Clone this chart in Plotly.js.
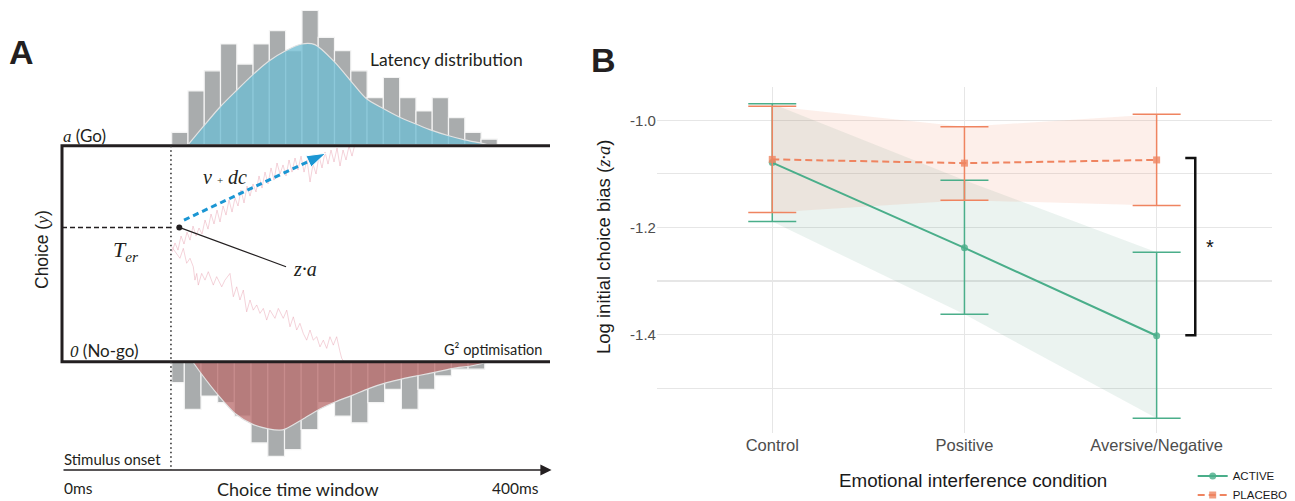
<!DOCTYPE html>
<html><head><meta charset="utf-8">
<script src="https://cdn.plot.ly/plotly-3.0.1.min.js"></script>
<style>html,body{margin:0;padding:0;background:#fff;overflow:hidden}#chart{width:1295px;height:501px}</style>
</head><body><div id="chart"></div>
<script>
// ================= Panel B data =================
const conditions   = ['Control', 'Positive', 'Aversive/Negative'];
const activeMean   = [-1.079, -1.238, -1.402];
const activeLow    = [-1.189, -1.362, -1.556];
const activeHigh   = [-0.969, -1.112, -1.246];
const placeboMean  = [-1.073, -1.080, -1.074];
const placeboLow   = [-1.172, -1.149, -1.159];
const placeboHigh  = [-0.974, -1.012, -0.989];
const yTickVals    = [-1.4, -1.2, -1.0];
const yTickText    = ['-1.4', '-1.2', '-1.0'];
const yMinorVals   = [-1.5, -1.3, -1.1];

// ================= Panel A data (time in ms, evidence 0 = No-go, 100 = Go) =================
const goBinCenters = [98.2, 111.8, 125.3, 138.9, 152.5, 166.0, 179.6, 193.2, 206.8, 220.3,
                      233.9, 247.5, 261.0, 274.6, 288.2, 301.8, 315.3, 328.9, 342.5, 356.0];
const goBinWidth   = 13.57;
const goCounts     = [1.8, 8, 11, 15, 12, 15, 17, 14, 20, 16, 14, 11, 7, 10, 7, 5, 7, 4, 1.8, 0.8];
const goDensityT   = [105.3, 117.8, 131.7, 145.6, 158.9, 171.9, 186.4, 199.8, 210.8, 226.7,
                      240.6, 253.3, 267.3, 281.1, 294.4, 308.3, 322.3, 335.6, 349.4, 354.2];
const goDensity    = [0, 2.7, 5.6, 8.1, 10.4, 12.4, 14.0, 15.0, 14.9, 12.4,
                      9.5, 6.9, 5.4, 4.1, 3.1, 2.1, 1.3, 0.7, 0.2, 0];

const nogoBinCenters = [96.7, 108.9, 122.8, 136.7, 150.6, 164.5, 178.5, 192.4, 206.3, 220.2,
                        234.1, 248.0, 261.9, 275.9, 289.8, 303.7, 317.6, 331.5, 345.4];
const nogoBinWidths  = [10.5, 13.92, 13.92, 13.92, 13.92, 13.92, 13.92, 13.92, 13.92, 13.92,
                        13.92, 13.92, 13.92, 13.92, 13.92, 13.92, 13.92, 13.92, 13.92];
const nogoCounts     = [3, 7, 5, 6, 8, 12, 14, 13, 10, 6, 8, 9, 6, 4, 7, 4, 2, 1, 1];
const nogoDensityT   = [109.4, 115.8, 130.3, 144.2, 158.6, 171.9, 181.7, 186.4, 200.3, 214.2,
                        228.1, 241.9, 256.1, 270.6, 284.4, 298.3, 312.3, 326.1, 340.6, 353.9];
const nogoDensity    = [0, 1.6, 4.9, 7.6, 9.2, 9.9, 10.1, 9.9, 8.5, 7.0,
                        5.85, 4.9, 3.85, 3.0, 2.4, 1.9, 1.4, 0.87, 0.52, 0];

const walkUpT = [91.7, 94.2, 96.7, 99.2, 101.7, 104.2, 106.7, 109.2, 111.7, 114.2,
                 116.7, 119.2, 121.7, 124.2, 126.7, 129.2, 131.7, 134.2, 136.7, 139.2,
                 141.7, 144.2, 146.7, 149.2, 151.7, 154.2, 156.7, 159.2, 161.7, 164.2,
                 166.7, 169.2, 171.7, 174.2, 176.7, 179.2, 181.7, 184.2, 186.7, 189.2,
                 191.7, 194.2, 196.7, 199.2, 201.7, 204.2, 206.7, 209.2, 211.7, 214.2,
                 216.7, 219.2, 221.7, 224.2, 226.7, 229.2, 231.7, 234.2, 236.7, 239.2,
                 241.7, 244.2];
const walkUpY = [50.8, 55.0, 51.7, 58.2, 54.5, 60.0, 56.3, 62.8, 58.2, 61.9,
                 59.1, 65.6, 61.4, 68.4, 63.8, 70.2, 64.7, 72.1, 67.9, 74.9,
                 69.3, 75.8, 72.1, 79.5, 73.5, 81.3, 76.7, 82.3, 78.6, 86.0,
                 80.4, 87.8, 82.3, 89.7, 84.1, 92.0, 86.9, 91.1, 86.0, 93.4,
                 87.8, 94.3, 88.8, 95.2, 87.8, 93.4, 83.2, 91.5, 86.9, 95.2,
                 89.7, 97.1, 91.5, 98.0, 92.5, 98.9, 90.6, 98.0, 93.4, 99.9,
                 95.2, 100.8];
const walkDownT = [91.4, 98.3, 101.1, 103.9, 106.7, 109.4, 110.8, 112.3, 113.6, 116.4,
                   119.2, 121.9, 126.1, 128.9, 133.1, 135.8, 140.0, 141.4, 142.8, 145.6,
                   148.3, 151.1, 153.9, 156.7, 159.4, 162.3, 165.0, 167.8, 170.6, 173.3,
                   177.5, 180.3, 184.4, 187.3, 190.0, 192.8, 195.6, 198.3, 201.1, 203.9,
                   206.7, 209.4, 212.3, 215.0, 217.8, 220.6, 223.3, 226.1, 228.9, 231.7,
                   233.1, 235.8];
const walkDownY = [53.2, 47.9, 52.5, 45.6, 47.9, 44.0, 37.8, 40.9, 35.5, 40.9,
                   37.8, 41.7, 35.5, 39.4, 34.7, 37.8, 40.9, 36.3, 30.1, 34.7,
                   28.6, 33.2, 23.1, 28.6, 23.9, 26.3, 22.4, 24.7, 19.3, 23.9,
                   20.1, 24.7, 20.1, 23.9, 16.2, 20.8, 14.7, 17.8, 13.1, 10.0,
                   14.7, 10.0, 11.6, 6.9, 10.0, 6.2, 11.6, 7.7, 11.6, 4.6,
                   1.6, -0.7];
const boundaryGo = 100, boundaryNoGo = 0;
const stimulusOnset = 90.8;            // ms
const windowEnd = 406.7;               // ms (end of drawn boundaries)
const startPointT = [97.75], startPointY = [62.2];   // z·a
const zaLabelLineT = [97.75, 186.7], zaLabelLineY = [62.2, 44.0];
const driftT = [101.7, 219.8], driftY = [65.6, 96.5];
const timeAxisY = -50.1, timeAxisEnd = 408;

// ================= helpers =================
const W = 1295, H = 501;
const PX = v => v / W, PY = v => 1 - v / H;
const ink = '#231F20';
const green = '#4AAE8A', orange = '#EF8460';
const SERIF = 'font-family:Liberation Serif';

const traces = [];
// ---- Panel A ----
traces.push({type:'bar', x:goBinCenters, y:goCounts, width:goBinWidth, xaxis:'x2', yaxis:'y3',
  marker:{color:'#A9ACAD', line:{color:'#F4F4F4', width:1.2}}, showlegend:false, hoverinfo:'skip'});
traces.push({type:'scatter', mode:'lines', x:goDensityT, y:goDensity, xaxis:'x2', yaxis:'y3',
  line:{color:'#E2E2E2', width:1.2, shape:'spline', smoothing:0.8}, fill:'tozeroy',
  fillcolor:'rgba(112,188,210,0.78)', showlegend:false, hoverinfo:'skip'});
traces.push({type:'bar', x:nogoBinCenters, y:nogoCounts, width:nogoBinWidths, xaxis:'x2', yaxis:'y4',
  marker:{color:'#A9ACAD', line:{color:'#F4F4F4', width:1.2}}, showlegend:false, hoverinfo:'skip'});
traces.push({type:'scatter', mode:'lines', x:nogoDensityT, y:nogoDensity, xaxis:'x2', yaxis:'y4',
  line:{color:'#E2E2E2', width:1.2, shape:'spline', smoothing:0.8}, fill:'tozeroy',
  fillcolor:'rgba(186,110,110,0.78)', showlegend:false, hoverinfo:'skip'});
traces.push({type:'scatter', mode:'lines', x:walkUpT, y:walkUpY, xaxis:'x2', yaxis:'y2',
  line:{color:'rgba(228,150,168,0.42)', width:1}, showlegend:false, hoverinfo:'skip'});
traces.push({type:'scatter', mode:'lines', x:walkDownT, y:walkDownY, xaxis:'x2', yaxis:'y2',
  line:{color:'rgba(228,150,168,0.42)', width:1}, showlegend:false, hoverinfo:'skip'});
traces.push({type:'scatter', mode:'lines', x:zaLabelLineT, y:zaLabelLineY, xaxis:'x2', yaxis:'y2',
  line:{color:ink, width:1.2}, showlegend:false, hoverinfo:'skip'});
traces.push({type:'scatter', mode:'markers', x:startPointT, y:startPointY, xaxis:'x2', yaxis:'y2',
  marker:{color:ink, size:6}, showlegend:false, hoverinfo:'skip'});
traces.push({type:'scatter', mode:'lines+markers', x:driftT, y:driftY, xaxis:'x2', yaxis:'y2',
  line:{color:'#1B96D3', width:3, dash:'6px,4px'},
  marker:{symbol:'arrow', size:[0, 20], angleref:'previous', color:'#1B96D3', opacity:[0, 1]},
  showlegend:false, hoverinfo:'skip'});

// ---- Panel B ----
function ribbon(lo, hi, fill) {
  return {type:'scatter', mode:'lines', x:conditions.concat(conditions.slice().reverse()),
    y:hi.concat(lo.slice().reverse()), fill:'toself', fillcolor:fill, line:{width:0},
    showlegend:false, hoverinfo:'skip', xaxis:'x', yaxis:'y'};
}
traces.push(ribbon(activeLow, activeHigh, 'rgba(60,140,110,0.10)'));
traces.push(ribbon(placeboLow, placeboHigh, 'rgba(240,132,94,0.13)'));
traces.push({type:'scatter', name:'ACTIVE', mode:'lines+markers', x:conditions, y:activeMean,
  line:{color:green, width:2}, marker:{symbol:'circle', size:7, color:green, opacity:0.8},
  error_y:{type:'data', symmetric:false, array:activeHigh.map((h,i)=>h-activeMean[i]),
    arrayminus:activeMean.map((m,i)=>m-activeLow[i]), color:green, thickness:1.5, width:24},
  xaxis:'x', yaxis:'y'});
traces.push({type:'scatter', name:'PLACEBO', mode:'lines+markers', x:conditions, y:placeboMean,
  line:{color:orange, width:2, dash:'7px,4px'}, marker:{symbol:'square', size:7, color:orange, opacity:0.8},
  error_y:{type:'data', symmetric:false, array:placeboHigh.map((h,i)=>h-placeboMean[i]),
    arrayminus:placeboMean.map((m,i)=>m-placeboLow[i]), color:orange, thickness:1.5, width:24},
  xaxis:'x', yaxis:'y'});

function ann(text, x, y, o) {
  return Object.assign({xref:'paper', yref:'paper', x:PX(x), y:PY(y), text:text, showarrow:false,
    xanchor:'center', yanchor:'middle', font:{family:'Lato', size:16, color:ink}}, o || {});
}
const annotations = [
  ann('<b>A</b>', 21, 52, {font:{family:'Liberation Sans', size:34, color:ink}}),
  ann('Latency distribution', 368, 59.5, {xanchor:'left', font:{family:'Lato', size:17.5, color:ink}}),
  ann('<i><span style="' + SERIF + '">a</span></i> (Go)', 61, 135, {xanchor:'left', font:{family:'Lato', size:17, color:ink}}),
  ann('<i><span style="' + SERIF + '">0</span></i> (No-go)', 68, 350, {xanchor:'left', font:{family:'Lato', size:17, color:ink}}),
  ann('G² optimisation', 544, 349, {xanchor:'right', font:{family:'Lato', size:14.5, color:ink}}),
  ann('Stimulus onset', 62, 459, {xanchor:'left', font:{family:'Lato', size:15, color:ink}}),
  ann('0ms', 62, 488, {xanchor:'left', font:{family:'Lato', size:15.5, color:ink}}),
  ann('400ms', 541, 488, {xanchor:'right', font:{family:'Lato', size:15.5, color:ink}}),
  ann('Choice time window', 297.5, 489, {font:{family:'Lato', size:18, color:ink}}),
  ann('Choice (<i><span style="' + SERIF + '">y</span></i>)', 42, 250, {textangle:-90, font:{family:'Liberation Sans', size:17.5, color:ink}}),
  ann('<i>T<sub>er</sub></i>', 126, 251, {font:{family:'Liberation Serif', size:22, color:ink}}),
  ann('<i>v</i> <span style="font-size:11px">+</span> <i>dc</i>', 225, 177, {font:{family:'Liberation Serif', size:20, color:ink}}),
  ann('<i>z·a</i>', 305, 269, {font:{family:'Liberation Serif', size:20, color:ink}}),
  {xref:'x2', yref:'y2', axref:'x2', ayref:'y2', x:timeAxisEnd, y:timeAxisY, ax:0, ay:timeAxisY,
    text:'', showarrow:true, arrowhead:2, arrowsize:1.4, arrowwidth:1.6, arrowcolor:ink},
  // Panel B
  ann('<b>B</b>', 603, 60, {font:{family:'Liberation Sans', size:34, color:ink}}),
  ann('Log initial choice bias (<i><span style="' + SERIF + '">z·a</span></i>)', 604, 247,
      {textangle:-90, font:{family:'Liberation Sans', size:18.5, color:'#1A1A1A'}}),
  ann('Emotional interference condition', 973, 480, {font:{family:'Liberation Sans', size:18.8, color:'#1A1A1A'}}),
  {xref:'x', yref:'y', x:2.279, y:-1.237, text:'*', showarrow:false, font:{family:'Liberation Sans', size:20, color:'#111'}}
];

const shapes = [
  {type:'path', xref:'x2', yref:'y2',
   path:'M' + windowEnd + ',' + boundaryGo + ' L0,' + boundaryGo + ' L0,' + boundaryNoGo + ' L' + windowEnd + ',' + boundaryNoGo,
   line:{color:ink, width:3}},
  {type:'line', xref:'x2', yref:'y2', x0:stimulusOnset, x1:stimulusOnset, y0:boundaryGo, y1:timeAxisY,
   line:{color:'#333', width:1.6, dash:'1.5px,3px'}},
  {type:'line', xref:'x2', yref:'y2', x0:0, x1:stimulusOnset, y0:startPointY[0], y1:startPointY[0],
   line:{color:ink, width:1.5, dash:'5px,3px'}},
  // significance bracket (panel B)
  {type:'path', xref:'x', yref:'y', path:'M2.149,-1.0702 L2.201,-1.0702 L2.201,-1.401 L2.149,-1.401',
   line:{color:'#111', width:2.5}}
];

const gridc = '#E6E6E6';
const layout = {
  width:W, height:H, autosize:false, margin:{l:0, r:0, t:0, b:0, pad:0, autoexpand:false},
  paper_bgcolor:'#fff', plot_bgcolor:'rgba(0,0,0,0)',
  font:{family:'Liberation Sans, Arial', color:'#1A1A1A'},
  showlegend:true,
  legend:{x:0.921, y:0.079, xanchor:'left', yanchor:'top', bgcolor:'rgba(0,0,0,0)',
          font:{family:'Liberation Sans', size:11.5, color:'#1A1A1A'}, itemwidth:30, tracegroupgap:0},
  xaxis:{domain:[0.5073, 0.9822], type:'category', range:[-0.6, 2.6], anchor:'y',
         showgrid:true, gridcolor:gridc, gridwidth:1.2, zeroline:false, showline:false, ticks:'',
         tickfont:{family:'Liberation Sans', size:16.5, color:'#4D4D4D'}},
  yaxis:{domain:[0.1357, 0.8263], range:[-1.5834, -0.938], anchor:'x',
         tickvals:yTickVals, ticktext:yTickText, showgrid:true, gridcolor:gridc, gridwidth:1.2,
         zeroline:false, showline:false, ticks:'',
         tickfont:{family:'Liberation Sans', size:15, color:'#4D4D4D'},
         minor:{tickvals:yMinorVals, showgrid:true, gridcolor:gridc, gridwidth:1.2, ticks:''}},
  xaxis2:{domain:[0, 0.4324], range:[-51.67, 415], anchor:'y2', visible:false},
  yaxis2:{domain:[0, 1], range:[-64.44, 167.45], anchor:'x2', visible:false},
  yaxis3:{domain:[0.7116, 1], range:[0, 21.57], anchor:'x2', visible:false},
  yaxis4:{domain:[0, 0.2764], range:[20.67, 0], anchor:'x2', visible:false},
  bargap:0,
  shapes:shapes,
  annotations:annotations
};
Plotly.newPlot('chart', traces, layout, {staticPlot:true, displayModeBar:false});
</script>
</body></html>
